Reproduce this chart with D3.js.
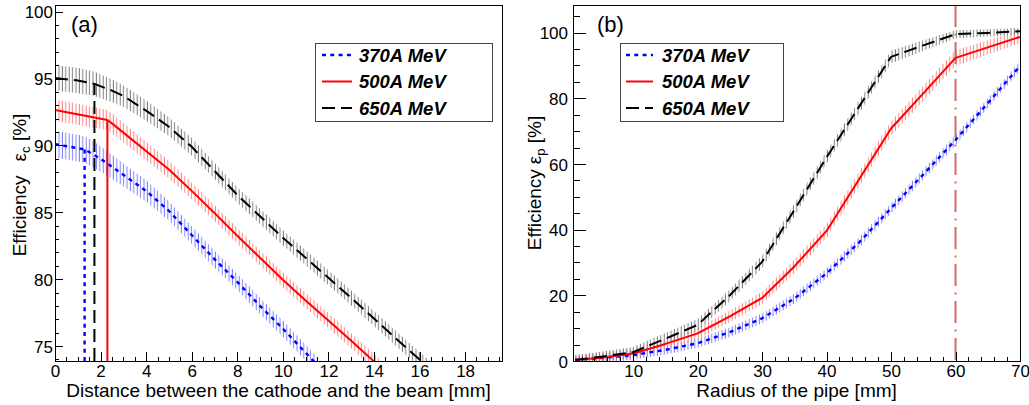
<!DOCTYPE html>
<html><head><meta charset="utf-8">
<script src="https://cdn.jsdelivr.net/npm/d3@7"></script>
<style>
html,body{margin:0;padding:0;background:#fff;}
svg{display:block;font-family:"Liberation Sans",Arial,Helvetica,sans-serif;}
</style></head><body>
<svg id="chart" width="1029" height="405"></svg>
<script>
// ---- beam energies shared by both panels ----
const energies = ["370A MeV", "500A MeV", "650A MeV"];

// ---- panel (a): efficiency vs distance between cathode and beam [mm] ----
const distA370 = [0, 1.3, 2, 2.5, 3, 4, 5, 6, 7, 8, 9, 10, 11, 12];
const effA370  = [90.1, 89.7, 89.0, 88.4, 87.8, 86.6, 85.1, 83.3, 81.5, 79.8, 78.0, 76.3, 74.5, 72.7];
const errA370  = [1.0, 1.0, 0.95, 0.9, 0.85, 0.8, 0.72, 0.65, 0.62, 0.6, 0.6, 0.6, 0.6, 0.6];

const distA500 = [0, 2.3, 2.5, 5, 6, 7, 8, 9, 10, 11, 12, 13, 14, 15];
const effA500  = [92.65, 91.9, 91.65, 88.2, 86.6, 84.95, 83.25, 81.6, 79.95, 78.4, 76.9, 75.4, 73.85, 72.3];
const errA500  = [0.8, 0.75, 0.75, 0.65, 0.62, 0.6, 0.58, 0.57, 0.56, 0.56, 0.56, 0.56, 0.56, 0.56];

const distA650 = [0, 1, 1.73, 2.5, 3, 4, 5, 6, 7, 8, 9, 10, 11, 12, 13, 14, 15, 16, 17];
const effA650  = [95.05, 94.85, 94.6, 94.1, 93.7, 92.6, 91.4, 89.9, 88.1, 86.3, 84.7, 83.1, 81.6, 80.1, 78.6, 77.05, 75.5, 74.0, 72.5];
const errA650  = [0.95, 0.95, 0.9, 0.85, 0.8, 0.75, 0.7, 0.65, 0.6, 0.58, 0.57, 0.56, 0.56, 0.56, 0.56, 0.56, 0.56, 0.56, 0.56];

// cathode edge position for each energy (drawn as a vertical marker)
const cathodeEdge = [1.3, 2.3, 1.73];

// ---- panel (b): efficiency vs radius of the pipe [mm] ----
const radius   = [1, 5, 10, 15, 20, 25, 30, 35, 40, 45, 50, 55, 60, 65, 70];
const effB370  = [0.3, 0.9, 1.8, 3.4, 5.4, 8.8, 13.0, 19.0, 26.7, 36.0, 46.5, 56.8, 67.3, 78.5, 89.8];
const errB370  = [1.4, 1.4, 1.4, 1.4, 1.4, 1.5, 1.5, 1.5, 1.5, 1.5, 1.5, 1.5, 1.5, 1.5, 1.5];
const effB500  = [0.3, 1.0, 2.3, 5.2, 8.4, 13.6, 19.2, 28.8, 39.6, 55.2, 70.8, 81.5, 92.3, 95.5, 98.7];
const errB500  = [1.4, 1.4, 1.5, 1.6, 1.7, 1.8, 1.9, 2.0, 2.1, 2.2, 2.2, 2.3, 2.4, 2.2, 2.0];
const effB650  = [0.3, 1.3, 2.7, 6.8, 11.0, 20.0, 30.2, 46.0, 62.0, 77.3, 92.6, 96.1, 99.5, 99.9, 100.4];
const errB650  = [1.5, 1.5, 1.6, 1.7, 1.8, 1.8, 1.9, 1.9, 1.9, 1.9, 1.9, 1.6, 1.2, 1.1, 1.0];

// radius limit marker
const pipeLimit = 60;

// ---- tick values ----
const tickA_xMajor = d3.range(0, 19, 2);
const tickA_xMinor = d3.range(0, 19.7, 0.5);
const tickA_yMajor = [75, 80, 85, 90, 95, 100];
const tickA_yMinor = d3.range(74, 100.5, 1);
const tickB_xMajor = [10, 20, 30, 40, 50, 60, 70];
const tickB_xMinor = d3.range(2, 70.1, 2);
const tickB_yMajor = [0, 20, 40, 60, 80, 100];
const tickB_yMinor = d3.range(0, 108, 5);

// ---- styles per energy ----
const lineColor  = ["#0000ff", "#ff0000", "#000000"];
const hatchColor = ["#8080ff", "#ff8484", "#808080"];
const lineDash   = ["4,4.3", null, "13,6"];
const lineWidth  = [2.4, 2, 2];

const svg = d3.select("#chart");
const defs = svg.append("defs");

// vertical hatch patterns for the error bands
hatchColor.forEach((c, i) => {
  const p = defs.append("pattern").attr("id", "hatch" + i)
    .attr("patternUnits", "userSpaceOnUse").attr("width", 3.4).attr("height", 20);
  p.append("line").attr("x1", 1.2).attr("x2", 1.2).attr("y1", 0).attr("y2", 20)
    .attr("stroke", c).attr("stroke-width", 1);
});

function series(xs, vs, es) {
  return xs.map((x, i) => ({ x, v: vs[i], e: es[i] }));
}

function drawPanel(cfg) {
  const { id, x, y } = cfg;
  const [x0, x1] = x.range();
  const [yb, yt] = y.range();
  const g = svg.append("g").attr("class", "panel-" + id);

  defs.append("clipPath").attr("id", "clip-" + id)
    .append("rect").attr("x", x0).attr("y", yt).attr("width", x1 - x0).attr("height", yb - yt);

  const plot = g.append("g").attr("clip-path", `url(#clip-${id})`);

  // error bands
  const area = d3.area().x(d => x(d.x)).y0(d => y(d.v - d.e)).y1(d => y(d.v + d.e));
  cfg.data.forEach((s, i) => {
    plot.append("path").attr("d", area(s)).attr("fill", `url(#hatch${i})`).attr("stroke", "none");
  });

  if (cfg.extra) cfg.extra(plot);

  // central lines
  const line = d3.line().x(d => x(d.x)).y(d => y(d.v));
  cfg.data.forEach((s, i) => {
    plot.append("path").attr("d", line(s)).attr("fill", "none")
      .attr("stroke", lineColor[i]).attr("stroke-width", lineWidth[i])
      .attr("stroke-dasharray", lineDash[i]).attr("stroke-linejoin", "round");
  });

  if (cfg.extraTop) cfg.extraTop(plot);

  // axes with inward ticks
  const axFont = sel => sel.attr("font-size", 17).attr("font-family", null)
    .call(s => s.select(".domain").remove())
    .call(s => s.selectAll("line").attr("stroke", "#000").attr("shape-rendering", "crispEdges"));

  g.append("g").attr("transform", `translate(0,${yb})`)
    .call(d3.axisBottom(x).tickValues(cfg.xMinor).tickSize(-cfg.xMinorLen).tickFormat(""))
    .call(axFont);
  g.append("g").attr("transform", `translate(0,${yb})`)
    .call(d3.axisBottom(x).tickValues(cfg.xMajor).tickSize(-cfg.xMajorLen).tickPadding(3.5).tickFormat(d3.format("d")))
    .call(axFont).call(s => s.selectAll("text").attr("fill", "#000"));
  g.append("g").attr("transform", `translate(${x0},0)`)
    .call(d3.axisLeft(y).tickValues(cfg.yMinor).tickSize(-cfg.yMinorLen).tickFormat(""))
    .call(axFont);
  g.append("g").attr("transform", `translate(${x0},0)`)
    .call(d3.axisLeft(y).tickValues(cfg.yMajor).tickSize(-cfg.yMajorLen).tickPadding(cfg.yPad).tickFormat(d3.format("d")))
    .call(axFont).call(s => s.selectAll("text").attr("fill", "#000").attr("dy", "0.36em"));

  // frame
  g.append("rect").attr("x", x0).attr("y", yt).attr("width", x1 - x0).attr("height", yb - yt)
    .attr("fill", "none").attr("stroke", "#000").attr("stroke-width", 1).attr("shape-rendering", "crispEdges");

  // panel tag
  g.append("text").attr("x", cfg.tag[1]).attr("y", 32).attr("font-size", 22).text(cfg.tag[0]);

  // x title
  g.append("text").attr("x", (x0 + x1) / 2).attr("y", 397).attr("text-anchor", "middle")
    .attr("font-size", 19).text(cfg.xTitle);

  // y title (rotated) with subscripted epsilon
  const yt_ = g.append("text").attr("transform", `translate(${cfg.yTitleX},${cfg.yTitleY}) rotate(-90)`)
    .attr("text-anchor", "middle").attr("font-size", 19);
  yt_.append("tspan").text("Efficiency");
  yt_.append("tspan").attr("dx", cfg.epsGap).text("\u03B5");
  yt_.append("tspan").attr("dy", 4).attr("font-size", 13).text(cfg.sub);
  yt_.append("tspan").attr("dy", -4).text(" [%]");

  // legend
  const L = cfg.legend;
  g.append("rect").attr("x", L.x0).attr("y", L.y0).attr("width", L.x1 - L.x0).attr("height", L.y1 - L.y0)
    .attr("fill", "#fff").attr("stroke", "#444").attr("stroke-width", 1).attr("shape-rendering", "crispEdges");
  energies.forEach((name, i) => {
    const cy = L.rows[i];
    g.append("line").attr("x1", L.sx0).attr("x2", L.sx1).attr("y1", cy).attr("y2", cy)
      .attr("stroke", lineColor[i]).attr("stroke-width", lineWidth[i]).attr("stroke-dasharray", lineDash[i]);
    g.append("text").attr("x", L.tx).attr("y", cy + 6.5).attr("font-size", 18.5)
      .attr("font-weight", "bold").attr("font-style", "italic").text(name);
  });
}

// ---- panel (a) ----
const xA = d3.scaleLinear().domain([0, 19.62]).range([55, 502]);
const yA = d3.scaleLinear().domain([73.88, 100.5]).range([361, 5]);
const dataA = [
  series(distA370, effA370, errA370),
  series(distA500, effA500, errA500),
  series(distA650, effA650, errA650)
];

drawPanel({
  id: "a", x: xA, y: yA, data: dataA,
  xMajor: tickA_xMajor, xMinor: tickA_xMinor, yMajor: tickA_yMajor, yMinor: tickA_yMinor,
  xMajorLen: 9, xMinorLen: 4.5, yMajorLen: 8, yMinorLen: 4, yPad: 2,
  tag: ["(a)", 71],
  xTitle: "Distance between the cathode and the beam [mm]",
  yTitleX: 26, yTitleY: 185, epsGap: 14, sub: "c",
  legend: { x0: 315, x1: 492, y0: 43, y1: 121, rows: [55, 81.5, 108], sx0: 322, sx1: 352, tx: 359 },
  extraTop: plot => {
    // vertical markers at the cathode edge, up to the curve
    dataA.forEach((s, i) => {
      const edge = cathodeEdge[i];
      const pt = s.find(d => d.x === edge);
      plot.append("line").attr("x1", xA(edge)).attr("x2", xA(edge))
        .attr("y1", yA.range()[0]).attr("y2", yA(pt.v))
        .attr("stroke", lineColor[i]).attr("stroke-width", lineWidth[i])
        .attr("stroke-dasharray", lineDash[i]);
    });
  }
});

// ---- panel (b) ----
const xB = d3.scaleLinear().domain([0.67, 70]).range([573, 1020]);
const yB = d3.scaleLinear().domain([0, 108.4]).range([361, 5]);
const dataB = [
  series(radius, effB370, errB370),
  series(radius, effB500, errB500),
  series(radius, effB650, errB650)
];

drawPanel({
  id: "b", x: xB, y: yB, data: dataB,
  xMajor: tickB_xMajor, xMinor: tickB_xMinor, yMajor: tickB_yMajor, yMinor: tickB_yMinor,
  xMajorLen: 9, xMinorLen: 4.5, yMajorLen: 13, yMinorLen: 6.5, yPad: 5,
  tag: ["(b)", 597],
  xTitle: "Radius of the pipe [mm]",
  yTitleX: 541, yTitleY: 183, epsGap: 5, sub: "p",
  legend: { x0: 620, x1: 783, y0: 43, y1: 121, rows: [55, 81.5, 108], sx0: 626, sx1: 653, tx: 662 },
  extra: plot => {
    plot.append("line").attr("x1", xB(pipeLimit)).attr("x2", xB(pipeLimit))
      .attr("y1", yB.range()[1]).attr("y2", yB.range()[0])
      .attr("stroke", "#d46a6a").attr("stroke-width", 2)
      .attr("stroke-dasharray", "22,6.5,2,6.5");
  }
});
</script>
</body></html>
